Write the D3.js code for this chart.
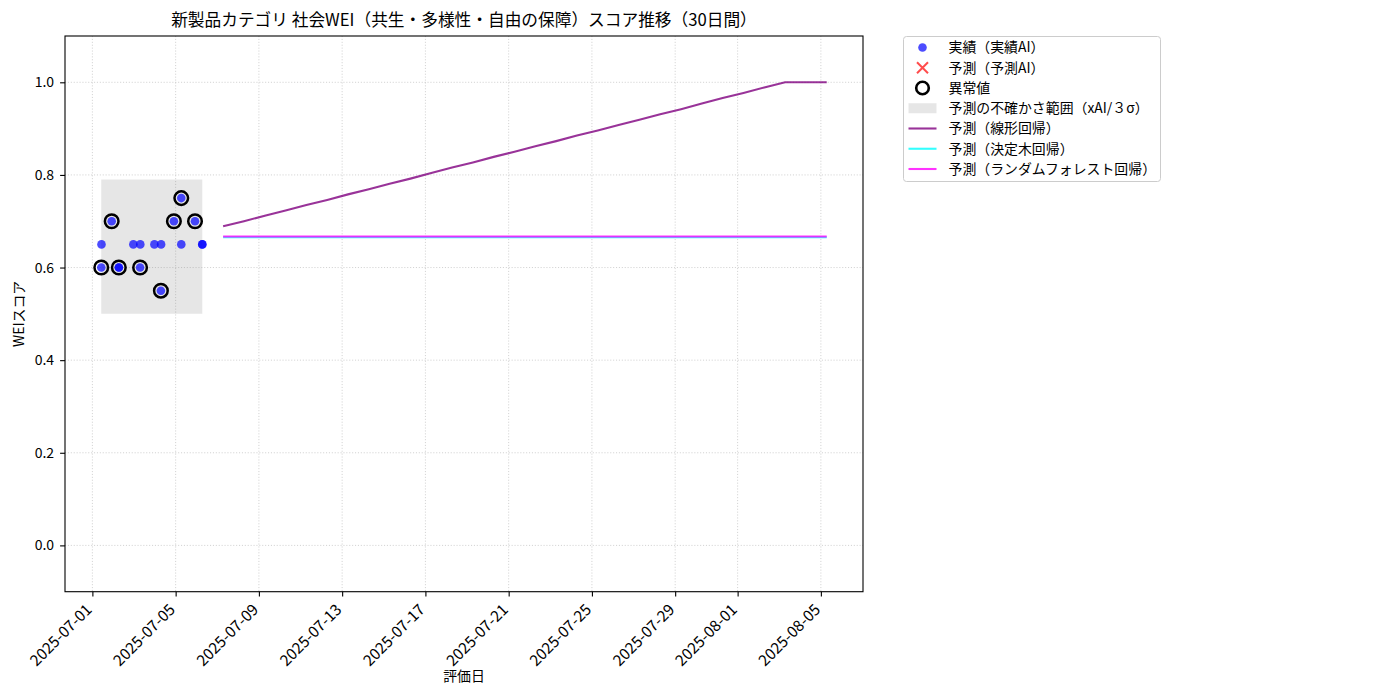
<!DOCTYPE html>
<html>
<head>
<meta charset="utf-8">
<script src="https://cdn.jsdelivr.net/npm/d3@7"></script>
<style>
  html, body { margin: 0; padding: 0; background: #fff; }
  text { font-family: "Noto Sans CJK JP", "Noto Sans", sans-serif; fill: #000; }
</style>
</head>
<body>
<svg id="chart" width="1400" height="700"></svg>
<script>
// ---------------- data ----------------
const titleText = "新製品カテゴリ 社会WEI（共生・多様性・自由の保障）スコア推移（30日間）";
const xLabelText = "評価日";
const yLabelText = "WEIスコア";

// actual scores (実績AI)
const actualTimes = [
  "2025-07-01T10:15", "2025-07-01T22:15", "2025-07-02T06:30", "2025-07-02T06:30",
  "2025-07-02T23:15", "2025-07-03T07:00", "2025-07-03T07:15", "2025-07-03T23:30",
  "2025-07-04T07:00", "2025-07-04T07:15", "2025-07-04T22:00", "2025-07-05T06:30",
  "2025-07-05T06:30", "2025-07-05T22:20", "2025-07-06T06:45", "2025-07-06T06:45",
  "2025-07-01T10:30"
];
const actualScores = [
  0.60, 0.70, 0.60, 0.60,
  0.65, 0.60, 0.65, 0.65,
  0.55, 0.65, 0.70, 0.75,
  0.65, 0.70, 0.65, 0.65,
  0.65
];

// anomalies (異常値)
const outlierTimes = [
  "2025-07-01T10:15", "2025-07-01T22:15", "2025-07-02T06:30", "2025-07-03T07:00",
  "2025-07-04T07:00", "2025-07-04T22:00", "2025-07-05T06:30", "2025-07-05T22:20"
];
const outlierScores = [0.60, 0.70, 0.60, 0.60, 0.55, 0.70, 0.75, 0.70];

// uncertainty band (xAI / 3σ) over the actual period
const bandLower = 0.50;
const bandUpper = 0.79;

// forecasts: 30 daily points
const forecastStart = "2025-07-07T06:45";
const linearValues = [
  0.689, 0.700, 0.712, 0.723, 0.735, 0.746, 0.758, 0.769, 0.781, 0.792,
  0.804, 0.816, 0.827, 0.839, 0.850, 0.862, 0.873, 0.885, 0.896, 0.908,
  0.919, 0.931, 0.942, 0.954, 0.966, 0.977, 0.989, 1.000, 1.000, 1.000
];
const treeValues = [
  0.6655, 0.6655, 0.6655, 0.6655, 0.6655, 0.6655, 0.6655, 0.6655, 0.6655, 0.6655,
  0.6655, 0.6655, 0.6655, 0.6655, 0.6655, 0.6655, 0.6655, 0.6655, 0.6655, 0.6655,
  0.6655, 0.6655, 0.6655, 0.6655, 0.6655, 0.6655, 0.6655, 0.6655, 0.6655, 0.6655
];
const forestValues = [
  0.667, 0.667, 0.667, 0.667, 0.667, 0.667, 0.667, 0.667, 0.667, 0.667,
  0.667, 0.667, 0.667, 0.667, 0.667, 0.667, 0.667, 0.667, 0.667, 0.667,
  0.667, 0.667, 0.667, 0.667, 0.667, 0.667, 0.667, 0.667, 0.667, 0.667
];

const xTickLabels = ["2025-07-01", "2025-07-05", "2025-07-09", "2025-07-13", "2025-07-17",
                     "2025-07-21", "2025-07-25", "2025-07-29", "2025-08-01", "2025-08-05"];
const yTickValues = [0.0, 0.2, 0.4, 0.6, 0.8, 1.0];
const yDomain = [-0.1, 1.1];

const legendLabels = [
  "実績（実績AI）", "予測（予測AI）", "異常値", "予測の不確かさ範囲（xAI/３σ）",
  "予測（線形回帰）", "予測（決定木回帰）", "予測（ランダムフォレスト回帰）"
];

// ---------------- drawing ----------------
const parseT = d3.timeParse("%Y-%m-%dT%H:%M");
const parseD = d3.timeParse("%Y-%m-%d");
const svg = d3.select("#chart");

const plot = { left: 65, right: 863, top: 36, bottom: 591.7 };

const actual = actualTimes.map((t, i) => ({ t: parseT(t), v: actualScores[i] }));
const outliers = outlierTimes.map((t, i) => ({ t: parseT(t), v: outlierScores[i] }));
const fStart = parseT(forecastStart);
const fTimes = linearValues.map((_, i) => d3.timeDay.offset(fStart, i));
const linear = fTimes.map((t, i) => ({ t, v: linearValues[i] }));
const tree = fTimes.map((t, i) => ({ t, v: treeValues[i] }));
const forest = fTimes.map((t, i) => ({ t, v: forestValues[i] }));

const allT = actual.map(d => +d.t).concat(fTimes.map(d => +d));
const tMin = d3.min(allT), tMax = d3.max(allT);
const pad = (tMax - tMin) * 0.05;

const x = d3.scaleTime().domain([new Date(tMin - pad), new Date(tMax + pad)]).range([plot.left, plot.right]);
const y = d3.scaleLinear().domain(yDomain).range([plot.bottom, plot.top]);

const tickDates = xTickLabels.map(parseD);

// grid
const grid = svg.append("g");
grid.selectAll(".gx").data(tickDates).enter().append("line")
  .attr("x1", d => x(d)).attr("x2", d => x(d))
  .attr("y1", plot.top).attr("y2", plot.bottom)
  .attr("stroke", "#b0b0b0").attr("stroke-opacity", 0.7)
  .attr("stroke-width", 0.8).attr("stroke-dasharray", "1.1,1.8");
grid.selectAll(".gy").data(yTickValues).enter().append("line")
  .attr("x1", plot.left).attr("x2", plot.right)
  .attr("y1", d => y(d)).attr("y2", d => y(d))
  .attr("stroke", "#b0b0b0").attr("stroke-opacity", 0.7)
  .attr("stroke-width", 0.8).attr("stroke-dasharray", "1.1,1.8");

// clip
svg.append("clipPath").attr("id", "clip").append("rect")
  .attr("x", plot.left).attr("y", plot.top)
  .attr("width", plot.right - plot.left).attr("height", plot.bottom - plot.top);
const g = svg.append("g").attr("clip-path", "url(#clip)");

// band
const tExt = d3.extent(actual, d => d.t);
g.append("path")
  .datum(tExt)
  .attr("d", d3.area().x(d => x(d)).y0(y(bandLower)).y1(y(bandUpper)))
  .attr("fill", "#808080").attr("fill-opacity", 0.2);

// actual points
g.selectAll(".pt").data(actual).enter().append("circle")
  .attr("cx", d => x(d.t)).attr("cy", d => y(d.v)).attr("r", 4.3)
  .attr("fill", "blue").attr("fill-opacity", 0.7);

// outliers
g.selectAll(".out").data(outliers).enter().append("circle")
  .attr("cx", d => x(d.t)).attr("cy", d => y(d.v)).attr("r", 6.8)
  .attr("fill", "none").attr("stroke", "#000").attr("stroke-width", 2.5);

// lines
const line = d3.line().x(d => x(d.t)).y(d => y(d.v));
const lineSeries = [
  { data: linear, color: "purple" },
  { data: tree, color: "cyan" },
  { data: forest, color: "magenta" }
];
lineSeries.forEach(s => {
  g.append("path").datum(s.data).attr("d", line)
    .attr("fill", "none").attr("stroke", s.color).attr("stroke-opacity", 0.8)
    .attr("stroke-width", 2.1);
});

// axes frame
svg.append("rect").attr("x", plot.left).attr("y", plot.top)
  .attr("width", plot.right - plot.left).attr("height", plot.bottom - plot.top)
  .attr("fill", "none").attr("stroke", "#000").attr("stroke-width", 1.1);

// x axis
const xAxis = d3.axisBottom(x).tickValues(tickDates).tickFormat(d3.timeFormat("%Y-%m-%d"))
  .tickSize(4.9).tickPadding(3);
const xg = svg.append("g").attr("transform", `translate(0,${plot.bottom})`).call(xAxis);
xg.select(".domain").remove();
xg.selectAll(".tick line").attr("stroke", "#000").attr("stroke-width", 1.1);
xg.selectAll(".tick text")
  .attr("font-size", 15.5).attr("font-family", '"Noto Sans CJK JP", sans-serif').attr("fill", "#000")
  .attr("text-anchor", "end").attr("dy", null).attr("y", null)
  .attr("transform", "translate(0,19) rotate(-45)");

// y axis
const yAxis = d3.axisLeft(y).tickValues(yTickValues).tickFormat(d3.format(".1f"))
  .tickSize(4.9).tickPadding(6);
const yg = svg.append("g").attr("transform", `translate(${plot.left},0)`).call(yAxis);
yg.select(".domain").remove();
yg.selectAll(".tick line").attr("stroke", "#000").attr("stroke-width", 1.1);
yg.selectAll(".tick text")
  .attr("font-size", 14).attr("font-family", '"Noto Sans CJK JP", sans-serif').attr("fill", "#000");

// title and labels
const cx = (plot.left + plot.right) / 2;
svg.append("text").attr("x", cx).attr("y", 26).attr("text-anchor", "middle")
  .attr("font-size", 16.7).text(titleText);
svg.append("text").attr("x", cx).attr("y", 681).attr("text-anchor", "middle")
  .attr("font-size", 13.9).text(xLabelText);
svg.append("text").attr("transform", `translate(24,${(plot.top + plot.bottom) / 2}) rotate(-90)`)
  .attr("text-anchor", "middle").attr("font-size", 13.9).text(yLabelText);

// legend
const lg = svg.append("g").attr("transform", "translate(903.5,36.5)");
lg.append("rect").attr("width", 257).attr("height", 145).attr("rx", 3)
  .attr("fill", "#fff").attr("fill-opacity", 0.8).attr("stroke", "#cccccc").attr("stroke-width", 1);
const rowY = i => 11 + i * 20.25;
const mx = 19, lx0 = 5, lx1 = 33, tx = 45;
legendLabels.forEach((lab, i) => {
  const yy = rowY(i);
  const row = lg.append("g");
  if (i === 0) {
    row.append("circle").attr("cx", mx).attr("cy", yy).attr("r", 4.3)
      .attr("fill", "blue").attr("fill-opacity", 0.7);
  } else if (i === 1) {
    const s = 5.5;
    row.append("path").attr("d", `M${mx - s},${yy - s}L${mx + s},${yy + s}M${mx - s},${yy + s}L${mx + s},${yy - s}`)
      .attr("stroke", "red").attr("stroke-opacity", 0.7).attr("stroke-width", 2);
  } else if (i === 2) {
    row.append("circle").attr("cx", mx).attr("cy", yy).attr("r", 6.3)
      .attr("fill", "none").attr("stroke", "#000").attr("stroke-width", 2.6);
  } else if (i === 3) {
    row.append("rect").attr("x", lx0).attr("y", yy - 5).attr("width", lx1 - lx0).attr("height", 10)
      .attr("fill", "#808080").attr("fill-opacity", 0.2);
  } else {
    row.append("line").attr("x1", lx0).attr("x2", lx1).attr("y1", yy).attr("y2", yy)
      .attr("stroke", lineSeries[i - 4].color).attr("stroke-opacity", 0.8).attr("stroke-width", 2.1);
  }
  row.append("text").attr("x", tx).attr("y", yy).attr("dy", "0.35em")
    .attr("font-size", 13.9).text(lab);
});
</script>
</body>
</html>
